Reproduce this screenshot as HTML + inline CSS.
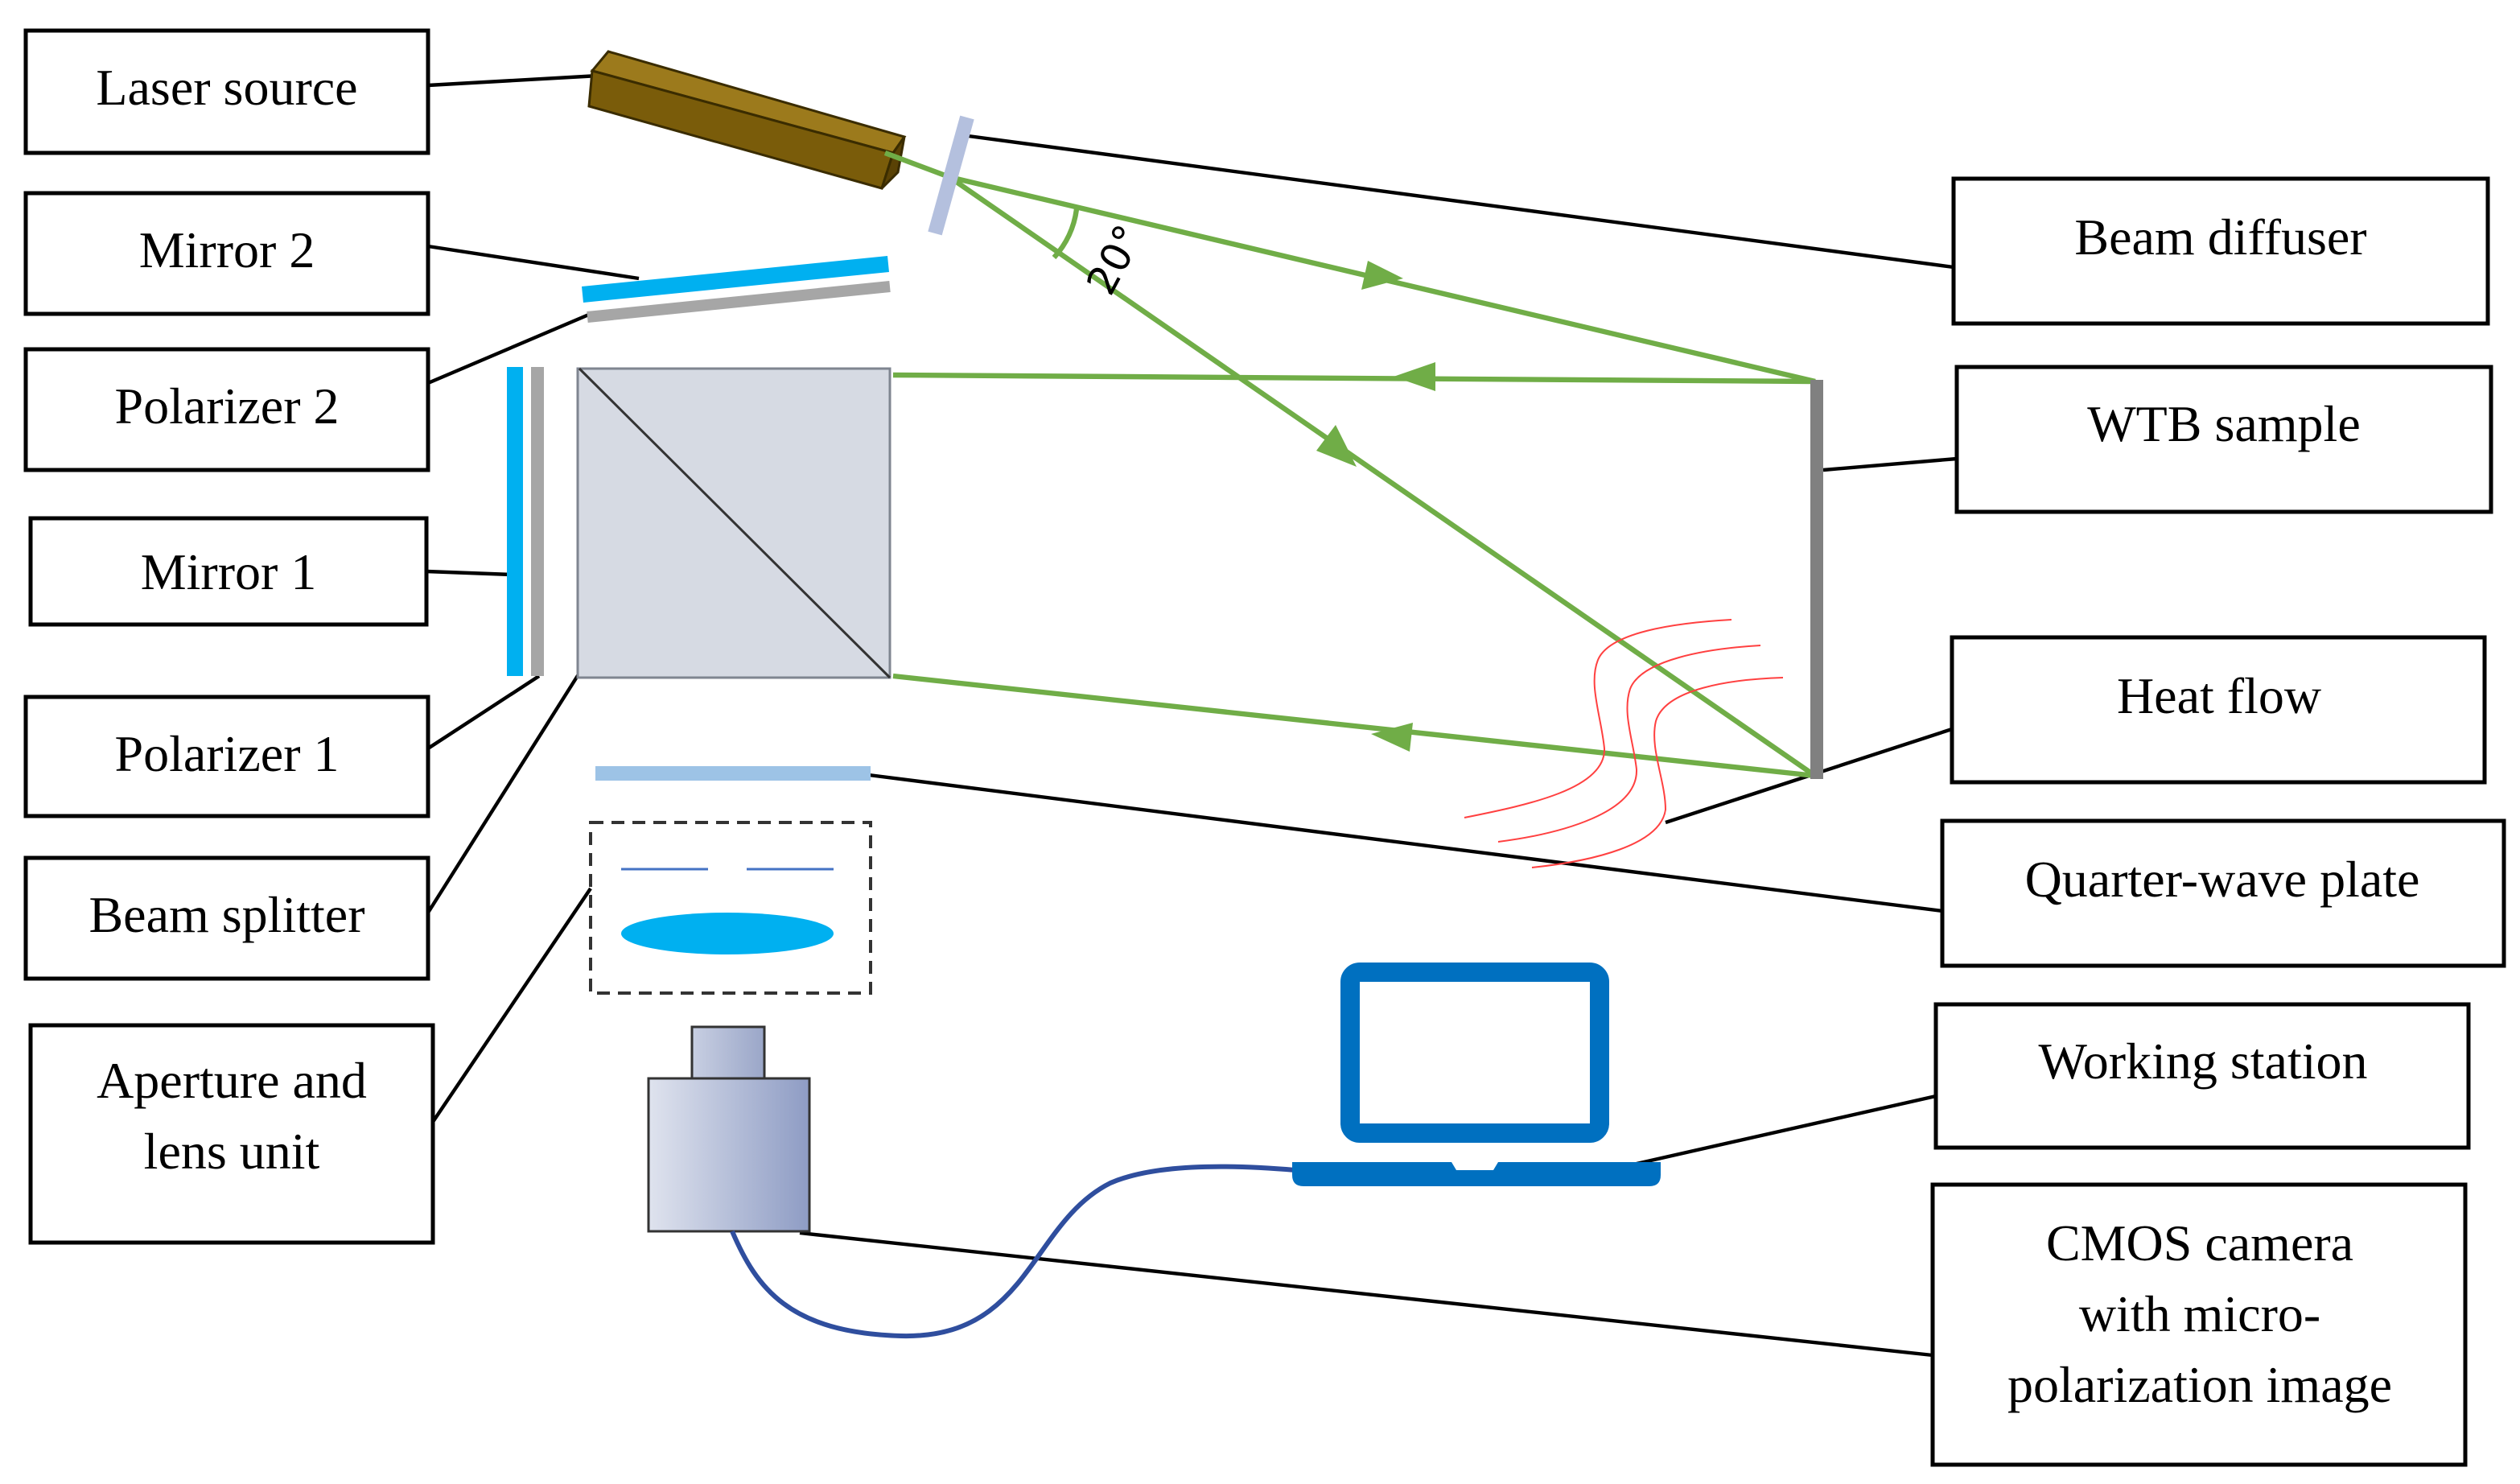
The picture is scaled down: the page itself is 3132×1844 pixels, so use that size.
<!DOCTYPE html>
<html><head><meta charset="utf-8"><style>
html,body{margin:0;padding:0;background:#fff;}
svg{display:block;}
text{font-family:"Liberation Serif",serif;font-size:32px;fill:#000;}
</style></head><body>
<svg width="3132" height="1844" viewBox="0 0 1566 922" xmlns="http://www.w3.org/2000/svg">
<defs>
<linearGradient id="cam" x1="0" x2="1" y1="0" y2="0"><stop offset="0" stop-color="#dfe3ee"/><stop offset="1" stop-color="#8e9cc4"/></linearGradient>
<linearGradient id="cam2" x1="0" x2="1"><stop offset="0" stop-color="#c8cfe2"/><stop offset="1" stop-color="#9aa6c8"/></linearGradient>
</defs>
<rect width="1566" height="922" fill="#fff"/>
<g fill="#fff" stroke="#000" stroke-width="2.5">
<rect x="16" y="19" width="250" height="76"/>
<rect x="16" y="120" width="250" height="75"/>
<rect x="16" y="217" width="250" height="75"/>
<rect x="19" y="322" width="246" height="66"/>
<rect x="16" y="433" width="250" height="74"/>
<rect x="16" y="533" width="250" height="75"/>
<rect x="19" y="637" width="250" height="135"/>
<rect x="1214" y="111" width="332" height="90"/>
<rect x="1216" y="228" width="332" height="90"/>
<rect x="1213" y="396" width="331" height="90"/>
<rect x="1207" y="510" width="349" height="90"/>
<rect x="1203" y="624" width="331" height="89"/>
<rect x="1201" y="736" width="331" height="174"/>
</g>
<g text-anchor="middle">
<text x="141" y="65">Laser source</text>
<text x="141" y="166">Mirror 2</text>
<text x="141" y="263">Polarizer 2</text>
<text x="142" y="366">Mirror 1</text>
<text x="141" y="479">Polarizer 1</text>
<text x="141" y="579">Beam splitter</text>
<text x="144" y="682">Aperture and</text>
<text x="144" y="726">lens unit</text>
<text x="1380" y="158">Beam diffuser</text>
<text x="1382" y="274">WTB sample</text>
<text x="1379" y="443">Heat flow</text>
<text x="1381" y="557">Quarter-wave plate</text>
<text x="1369" y="670">Working station</text>
<text x="1367" y="783">CMOS camera</text>
<text x="1367" y="827">with micro-</text>
<text x="1367" y="871">polarization image</text>
</g>
<g stroke="#000" stroke-width="2.2" fill="none">
<line x1="266" y1="53" x2="372" y2="47"/>
<line x1="266" y1="153" x2="397" y2="173"/>
<line x1="266" y1="238" x2="367" y2="195"/>
<line x1="265" y1="355" x2="318" y2="357"/>
<line x1="266" y1="465" x2="335" y2="420"/>
<line x1="266" y1="567" x2="362" y2="415"/>
<line x1="269" y1="697" x2="367" y2="552"/>
<line x1="598" y1="84" x2="1214" y2="166"/>
<line x1="1133" y1="292" x2="1216" y2="285"/>
<line x1="1035" y1="511" x2="1213" y2="453"/>
<line x1="536" y1="481" x2="1207" y2="566"/>
<line x1="1017" y1="723" x2="1203" y2="681"/>
<line x1="497" y1="766" x2="1201" y2="842"/>
</g>
<polygon points="378,32 562,85 555,95 368,44" fill="#9c7a1c" stroke="#3a2c00" stroke-width="1.5"/>
<polygon points="368,44 555,95 548,117 366,66" fill="#7a5c0a" stroke="#3a2c00" stroke-width="1.5"/>
<polygon points="555,95 562,85 558,107 548,117" fill="#5a4205" stroke="#3a2c00" stroke-width="1.5"/>
<g stroke="#70AD47" stroke-width="3.2" fill="none">
<line x1="550" y1="95" x2="590" y2="110"/>
<line x1="590" y1="110" x2="1128" y2="237"/>
<line x1="590" y1="110" x2="1128" y2="482"/>
<line x1="1128" y1="237" x2="555" y2="233"/>
<line x1="1128" y1="482" x2="555" y2="420"/>
<path d="M 655,160 A 55 55 0 0 0 669,130"/>
</g>
<g fill="#70AD47">
<polygon points="872,173 846,180 850,162"/>
<polygon points="866,234 892,225 892,243"/>
<polygon points="843,290 818,280 830,264"/>
<polygon points="852,456 878,449 876,467"/>
</g>
<text transform="translate(690,185) rotate(-62)" style="font-family:'DejaVu Sans',sans-serif;font-size:25px">20°</text>
<line x1="601" y1="73" x2="581" y2="145" stroke="#b4c0de" stroke-width="9"/>
<line x1="362" y1="183" x2="552" y2="164" stroke="#00B0F0" stroke-width="10"/>
<line x1="365" y1="197" x2="553" y2="178" stroke="#a6a6a6" stroke-width="7"/>
<rect x="315" y="228" width="10" height="192" fill="#00B0F0"/>
<rect x="330" y="228" width="8" height="192" fill="#a6a6a6"/>
<rect x="359" y="229" width="194" height="192" fill="#d6dae3" stroke="#7f8590" stroke-width="1.5"/>
<line x1="360" y1="229" x2="553" y2="421" stroke="#333" stroke-width="1.5"/>
<rect x="1125" y="236" width="8" height="248" fill="#808080"/>
<rect x="370" y="476" width="171" height="9" fill="#9dc3e6"/>
<rect x="367" y="511" width="174" height="106" fill="none" stroke="#333" stroke-width="2" stroke-dasharray="8,5"/>
<line x1="386" y1="540" x2="440" y2="540" stroke="#4472c4" stroke-width="1.5"/>
<line x1="464" y1="540" x2="518" y2="540" stroke="#4472c4" stroke-width="1.5"/>
<ellipse cx="452" cy="580" rx="66" ry="13" fill="#00B0F0"/>
<rect x="430" y="638" width="45" height="32" fill="url(#cam2)" stroke="#333" stroke-width="1.5"/>
<rect x="403" y="670" width="100" height="95" fill="url(#cam)" stroke="#333" stroke-width="1.5"/>
<path d="M 455,765 C 470,800 490,828 560,830 C 640,832 640,760 690,735 C 720,722 770,724 805,727" fill="none" stroke="#2f4e9e" stroke-width="3"/>
<rect x="839" y="604" width="155" height="100" rx="6" fill="#fff" stroke="#0070C0" stroke-width="12"/>
<path d="M 803,722 L 902,722 L 905,727 L 928,727 L 931,722 L 1032,722 L 1032,730 Q 1032,737 1025,737 L 810,737 Q 803,737 803,730 Z" fill="#0070C0"/>
<g stroke="#ff4040" stroke-width="1" fill="none">
<path d="M 1076,385 C 1040,387 1000,393 993,410 C 987,425 995,445 997,465 C 998,490 950,500 910,508"/>
<path d="M 1094,401 C 1060,403 1020,410 1013,428 C 1008,443 1015,460 1017,478 C 1018,505 970,518 931,523"/>
<path d="M 1108,421 C 1075,422 1035,428 1029,448 C 1025,465 1035,485 1035,503 C 1032,525 990,535 952,539"/>
</g>
</svg>
</body></html>
